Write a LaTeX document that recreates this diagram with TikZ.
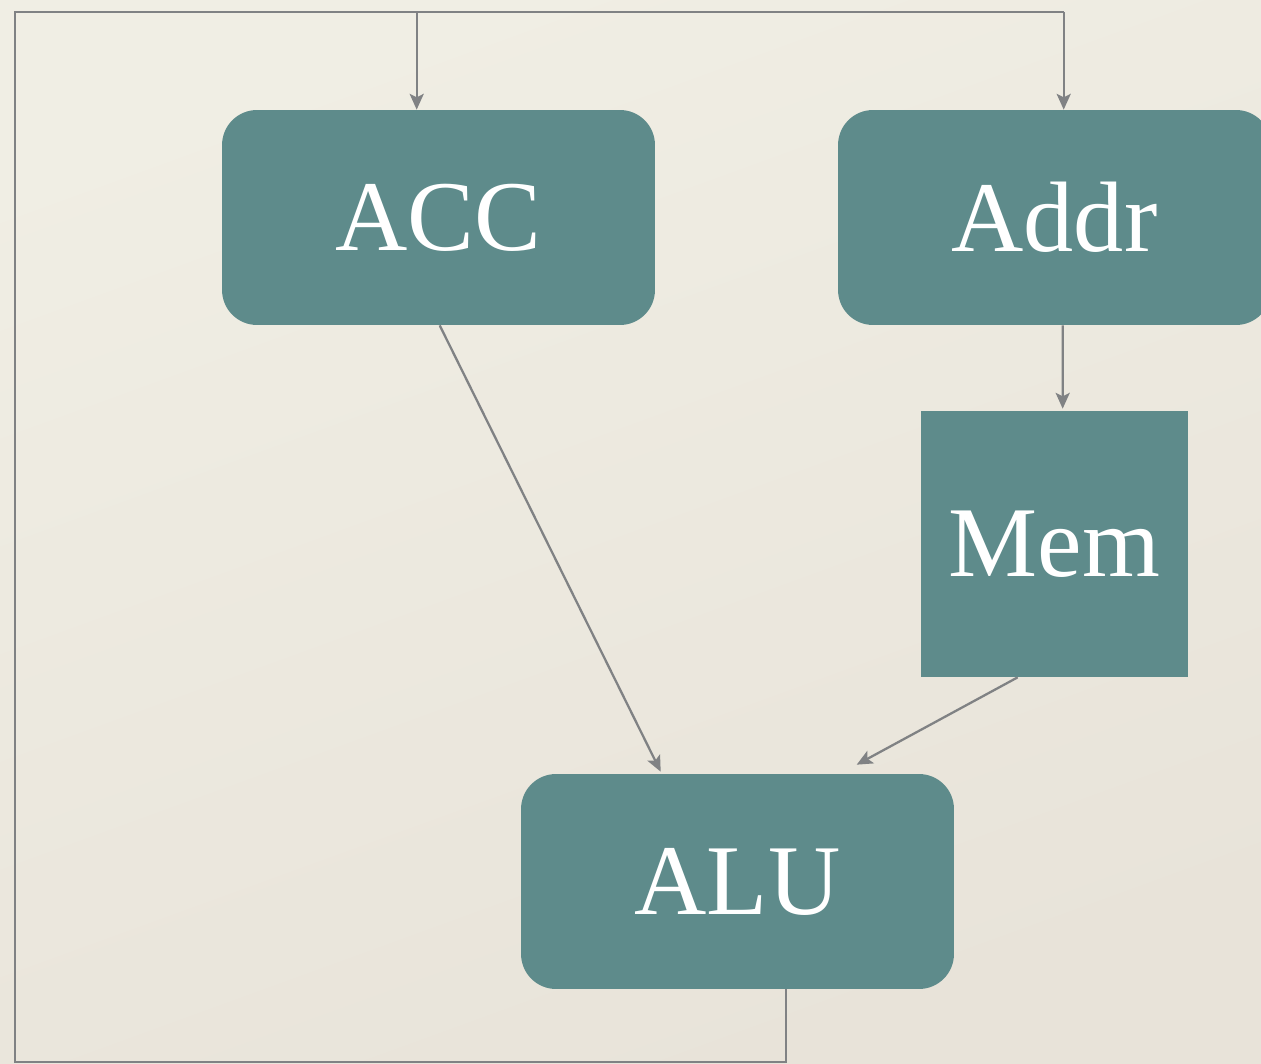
\documentclass[tikz,border=0pt]{standalone}
\usepackage{fontspec}
\setmainfont{Liberation Serif}
\usetikzlibrary{arrows.meta,calc}
\definecolor{bgtop}{HTML}{F0EEE4}
\definecolor{bgbot}{HTML}{E8E3D9}
\definecolor{teal}{HTML}{5E8B8B}
\definecolor{conncol}{HTML}{808284}
\tikzset{
  box/.style={fill=teal, draw=none, text=white, inner sep=0pt,
    font=\fontsize{57}{60}\selectfont},
  rbox/.style={box, rounded corners=0.7cm, minimum width=8.66cm, minimum height=4.3cm},
  sbox/.style={box, minimum width=5.34cm, minimum height=5.32cm},
  conn/.style={draw=conncol, line width=1.3pt, -{Stealth[length=9pt,width=8pt,inset=2pt]}},
  wire/.style={draw=conncol, line width=1.3pt}
}
\begin{document}
\begin{tikzpicture}[x=0.02cm,y=-0.02cm]
\useasboundingbox (0,0) rectangle (1261,1064);
\shade[top color=bgtop, bottom color=bgbot, shading angle=20] (0,0) rectangle (1261,1064);
\node[rbox] (ACC) at (438.5,217.5) {ACC};
\node[rbox] (Addr) at (1054.5,217.5) {Addr};
\node[sbox] (Mem) at (1054.5,544) {Mem};
\node[rbox] (ALU) at (737.5,881.5) {ALU};
\coordinate (aluout) at ($(ALU.south west)+(265,0)$);
\coordinate (accin) at ($(ACC.north west)+(195,0)$);
\coordinate (addrin) at ($(Addr.north west)+(226,0)$);
\coordinate (bl) at (aluout |- 0,1062);
\coordinate (br) at (15,1062);
\coordinate (tl) at (15,12);
\coordinate (tr) at (addrin |- 0,12);
\coordinate (tacc) at (accin |- 0,12);
\draw[wire] (aluout) -- (bl) -- (br) -- (tl) -- (tr);
\draw[conn] (tr) -- (addrin);
\draw[conn] (tacc) -- (accin);
\draw[conn] ($(Addr.south west)+(225,0)$) -- ($(Mem.north west)+(142,-2)$);
\draw[conn] ($(ACC.south west)+(218,0)$) -- ($(ALU.north west)+(140,-2)$);
\draw[conn] ($(Mem.south west)+(97,0)$) -- ($(ALU.north west)+(336,-9)$);
\end{tikzpicture}
\end{document}
